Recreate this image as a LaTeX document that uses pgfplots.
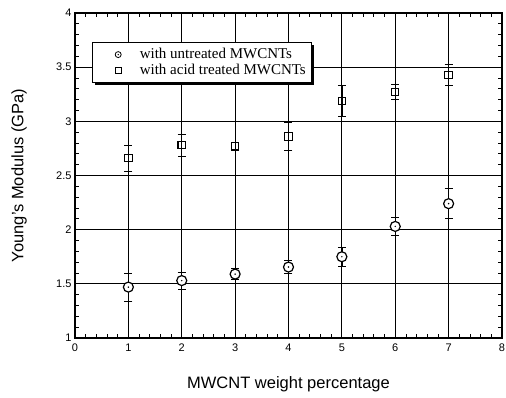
\documentclass[border=0pt]{standalone}
\usepackage{pgfplots}
\pgfplotsset{compat=1.18}
\usepackage{fontspec}
\setmainfont{Liberation Sans}
\newfontfamily\legfont{Liberation Serif}
\usetikzlibrary{shadows}
\pgfdeclareplotmark{odot}{%
  \pgfpathcircle{\pgfpointorigin}{\pgfplotmarksize}\pgfusepathqfillstroke
  \begin{pgfscope}\pgfsetfillcolor{black}\pgfpathcircle{\pgfpointorigin}{0.8pt}\pgfusepathqfill\end{pgfscope}}
\pgfdeclareplotmark{sqw}{%
  \pgfpathrectangle{\pgfpoint{-\pgfplotmarksize}{-\pgfplotmarksize}}{\pgfpoint{2\pgfplotmarksize}{2\pgfplotmarksize}}\pgfusepathqstroke}
\begin{document}
\begin{tikzpicture}
\begin{axis}[
  scale only axis, width=427pt, height=325pt,
  xmin=0, xmax=8, ymin=1, ymax=4,
  xtick={0,1,...,8}, ytick={1,1.5,...,4},
  minor x tick num=4, minor y tick num=4,
  tick align=inside,
  major tick length=6pt, minor tick length=4pt,
  every tick/.style={black, line width=0.8pt},
  axis line style={line width=1.3pt},
  grid=major,
  major grid style={black, line width=1pt},
  /pgf/number format/assume math mode=true,
  /pgf/number format/fixed,
  ticklabel style={font=\fontsize{11}{12}\selectfont},
  xticklabel style={yshift=-2pt},
  xlabel={MWCNT weight percentage},
  ylabel={Young's Modulus (GPa)},
  every axis x label/.style={at={(rel axis cs:0.5,0)}, anchor=center, yshift=-46pt, font=\fontsize{16.5}{18}\selectfont},
  every axis y label/.style={at={(rel axis cs:0,0.5)}, anchor=center, xshift=-56pt, rotate=90, font=\fontsize{16.5}{18}\selectfont},
  legend style={at={(rel axis cs:0,1)}, anchor=north west, xshift=17pt, yshift=-29pt,
    draw=black, line width=1.2pt, fill=white,
    drop shadow={shadow xshift=2.5pt, shadow yshift=-2.5pt, fill=black, opacity=1},
    font=\legfont\fontsize{15}{16}\selectfont, row sep=0pt,
    nodes={text height=11pt, text depth=3pt, inner ysep=1pt},
    inner xsep=4pt, inner ysep=4pt},
  legend cell align=left,
  legend image code/.code={\path (0pt,0pt) (40pt,0pt);\draw[#1, mark size=3pt, line width=0.8pt] plot coordinates {(21pt,0pt)};},
]
\addplot[only marks, mark=odot, mark size=5pt, line width=1.2pt, mark options={fill=white, solid},
  error bars/.cd, y dir=both, y explicit,
  error bar style={line width=0.7pt},
  error mark options={rotate=90, mark size=4pt, line width=0.7pt}]
  coordinates {
  (1,1.47) +- (0,0.13)
  (2,1.53) +- (0,0.08)
  (3,1.59) +- (0,0.05)
  (4,1.655) +- (0,0.06)
  (5,1.75) +- (0,0.09)
  (6,2.03) +- (0,0.08)
  (7,2.24) +- (0,0.14)
  };
\addlegendentry{with untreated MWCNTs}
\addplot[only marks, mark=sqw, mark size=3.7pt, line width=1.1pt, mark options={solid},
  error bars/.cd, y dir=both, y explicit,
  error bar style={line width=0.7pt},
  error mark options={rotate=90, mark size=4pt, line width=0.7pt}]
  coordinates {
  (1,2.66) +- (0,0.12)
  (2,2.78) +- (0,0.10)
  (3,2.77) +- (0,0.04)
  (4,2.86) +- (0,0.13)
  (5,3.19) +- (0,0.14)
  (6,3.27) +- (0,0.07)
  (7,3.43) +- (0,0.10)
  };
\addlegendentry{with acid treated MWCNTs}
\end{axis}
\pgfresetboundingbox
\path (current axis.south west) ++(-75pt,-59pt) rectangle ++(506pt,397pt);
\end{tikzpicture}
\end{document}
